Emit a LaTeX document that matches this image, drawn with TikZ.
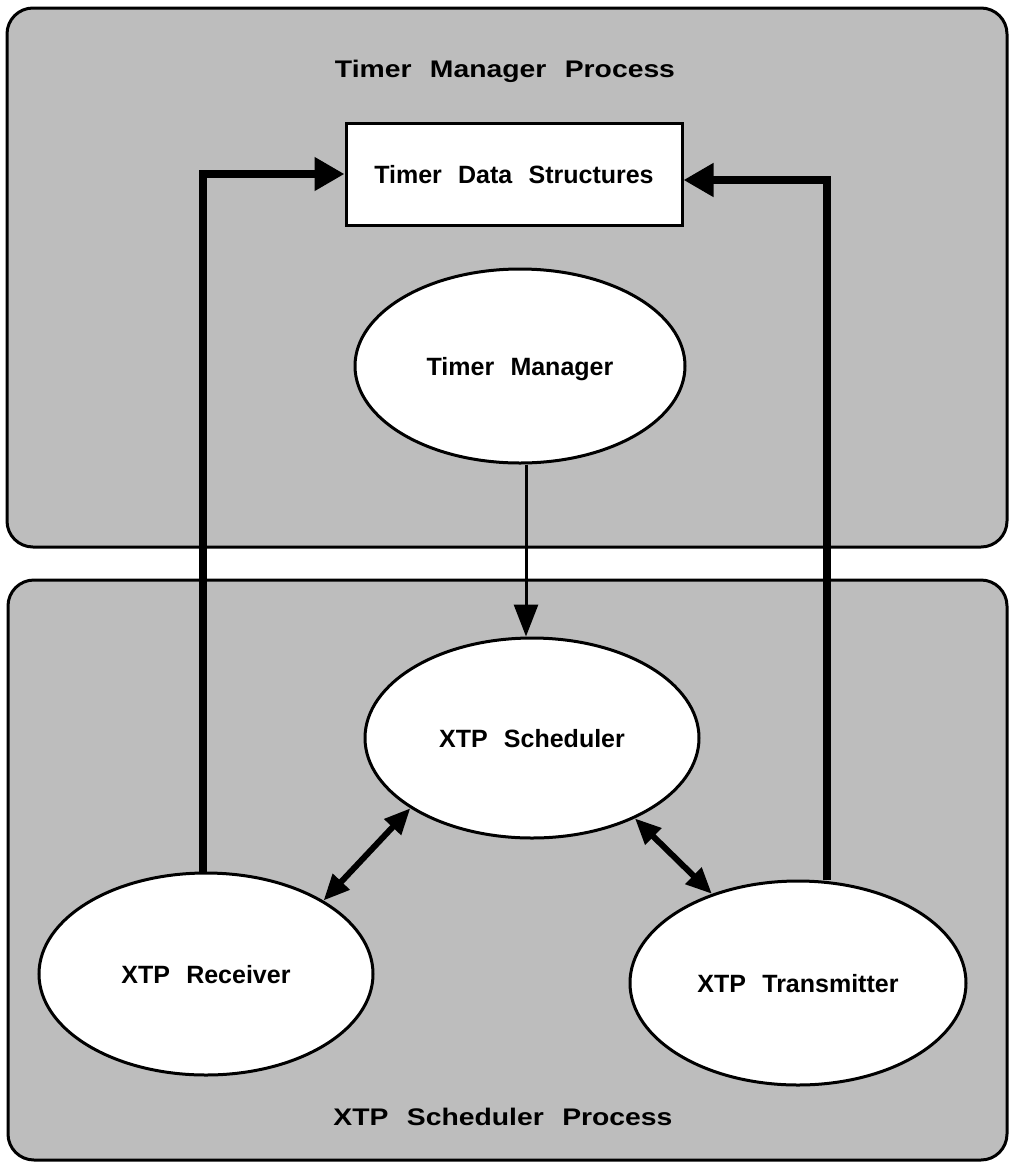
\documentclass[tikz,border=0pt]{standalone}
\usepackage{fontspec}
\setmainfont{Liberation Sans}
\usetikzlibrary{arrows.meta,shapes.geometric}
\definecolor{shade}{gray}{0.74}
\newcommand\wsp{\hspace{0.65em}}
\newcommand\titletext[1]{\scalebox{1.18}[1]{#1}}
\begin{document}
\begin{tikzpicture}[x=1pt,y=-1pt,
  panel/.style={draw, line width=3pt, rounded corners=26pt, fill=shade},
  lbl/.style={font=\bfseries\fontsize{25}{30}\selectfont, text height=18pt, text depth=0pt, inner sep=0pt},
  ttl/.style={font=\bfseries\fontsize{24}{28}\selectfont, anchor=base, inner sep=0pt},
  bubble/.style={lbl, ellipse, draw, line width=3pt, fill=white},
  store/.style={lbl, rectangle, draw, line width=3pt, fill=white},
  feed/.style={line width=8pt, -{Triangle[length=30pt,width=32pt]}},
  trigger/.style={line width=3pt, -{Triangle[length=32pt,width=24pt]}},
  talk/.style={line width=6pt, {Triangle[length=26pt,width=22pt]}-{Triangle[length=26pt,width=22pt]}}]
\useasboundingbox (0,0) rectangle (1010,1168);

% process panels
\draw[panel] (7,8) rectangle (1007,547);
\draw[panel] (8,580) rectangle (1007,1160);
\node[ttl] (ttop) at (505,77) {\titletext{Timer\wsp Manager\wsp Process}};
\node[ttl] (tbot) at (503,1125) {\titletext{XTP\wsp Scheduler\wsp Process}};

% data store and processes
\node[store, minimum width=336pt, minimum height=102pt] (box) at (514,174) {Timer\wsp Data\wsp Structures};
\node[bubble, minimum width=330pt, minimum height=194pt] (tm) at (520,366) {Timer\wsp Manager};
\node[bubble, minimum width=334pt, minimum height=200pt] (sched) at (532,738) {XTP\wsp Scheduler};
\node[bubble, minimum width=334pt, minimum height=202pt] (rcv) at (206,974) {XTP\wsp Receiver};
\node[bubble, minimum width=336pt, minimum height=204pt] (tx) at (798,983) {XTP\wsp Transmitter};

% connector guides
\coordinate (ax) at (526,0);
\coordinate (lx) at (203,0);
\coordinate (rx) at (827,0);

% connectors
\draw[trigger] (tm.south -| ax) -- (sched.north -| ax);
\draw[feed] (rcv.north -| lx) |- (box.west);
\draw[feed] (tx.north -| rx) |- ([yshift=-6pt]box.east);
\draw[talk] (sched.210.5) -- (rcv.32.6);
\draw[talk] (sched.322.5) -- (tx.134.3);
\end{tikzpicture}
\end{document}
